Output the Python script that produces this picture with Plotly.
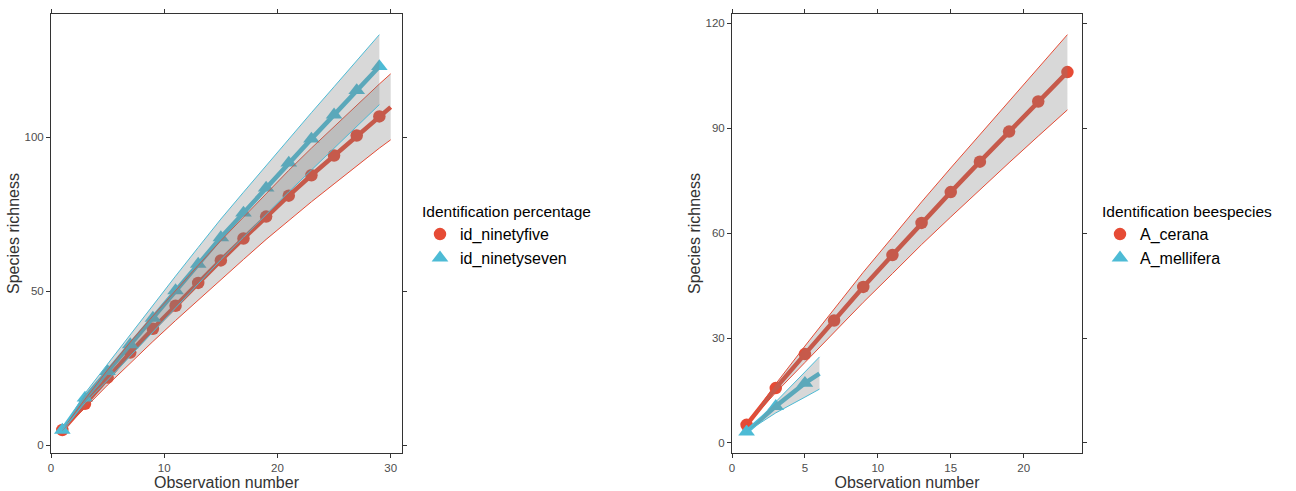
import plotly.graph_objects as go

RED = "#E64B35"
BLUE = "#4DBBD5"
RIBBON = "rgba(127,127,127,0.3)"
FONT = "Liberation Sans, Arial, Helvetica, sans-serif"

# ---- Left panel: identification percentage ----
x95 = [1, 3, 5, 7, 9, 11, 13, 15, 17, 19, 21, 23, 25, 27, 29, 30]
y95 = [5.0, 13.5, 22.0, 30.1, 37.8, 45.3, 52.7, 60.0, 67.1, 74.2, 81.0, 87.6, 94.0, 100.5, 106.7, 109.7]
lo95 = [5.0, 12.1, 19.6, 26.8, 33.7, 40.5, 47.2, 53.8, 60.3, 66.8, 73.0, 79.0, 84.8, 90.7, 96.4, 99.1]
hi95 = [5.0, 15.0, 24.5, 33.5, 42.0, 50.3, 58.4, 66.4, 74.1, 81.8, 89.2, 96.4, 103.4, 110.5, 117.2, 120.5]
pts95 = 15  # sampled points carry a marker; the final step is line only

x97 = [1, 3, 5, 7, 9, 11, 13, 15, 17, 19, 21, 23, 25, 27, 29]
y97 = [5.0, 15.4, 24.0, 32.7, 41.3, 50.2, 58.8, 67.4, 75.4, 83.5, 91.6, 99.4, 107.2, 115.1, 122.9]
lo97 = [5.0, 13.8, 21.2, 28.9, 36.6, 44.6, 52.4, 60.2, 67.5, 74.9, 82.2, 89.3, 96.4, 103.6, 110.5]
hi97 = [5.0, 16.9, 26.4, 36.0, 45.3, 54.9, 64.2, 73.4, 82.1, 90.8, 99.5, 107.9, 116.3, 124.8, 133.2]
pts97 = 15

# ---- Right panel: bee species ----
xcer = [1, 3, 5, 7, 9, 11, 13, 15, 17, 19, 21, 23]
ycer = [5.2, 15.7, 25.4, 35.0, 44.6, 53.7, 62.9, 71.7, 80.4, 89.0, 97.6, 106.0]
locer = [5.2, 14.4, 23.0, 31.6, 40.2, 48.4, 56.7, 64.6, 72.4, 80.1, 87.7, 95.2]
hicer = [5.2, 16.9, 27.7, 38.3, 48.8, 58.8, 68.9, 78.6, 88.2, 97.7, 107.3, 116.7]
ptscer = 12

xmel = [1, 3, 5, 6]
ymel = [3.2, 10.5, 17.1, 19.8]
lomel = [3.2, 8.6, 13.1, 15.4]
himel = [3.2, 11.9, 20.3, 24.6]
ptsmel = 3

series = [
    # name, x, y, lo, hi, n_points, colour, symbol, axes, legend
    ("id_ninetyfive", x95, y95, lo95, hi95, pts95, RED, "circle", ("x", "y"), "legend"),
    ("id_ninetyseven", x97, y97, lo97, hi97, pts97, BLUE, "triangle-up", ("x", "y"), "legend"),
    ("A_cerana", xcer, ycer, locer, hicer, ptscer, RED, "circle", ("x2", "y2"), "legend2"),
    ("A_mellifera", xmel, ymel, lomel, himel, ptsmel, BLUE, "triangle-up", ("x2", "y2"), "legend2"),
]
marker_size = {"circle": 12.5, "triangle-up": 14.5}

fig = go.Figure()

# curves and sample points
for name, x, y, lo, hi, n, col, sym, (xa, ya), leg in series:
    fig.add_trace(go.Scatter(x=x, y=y, mode="lines", line=dict(color=col, width=4.5),
                             xaxis=xa, yaxis=ya, showlegend=False, hoverinfo="skip"))
    fig.add_trace(go.Scatter(x=x[:n], y=y[:n], mode="markers", name=name,
                             marker=dict(color=col, symbol=sym, size=marker_size[sym], line=dict(width=0)),
                             xaxis=xa, yaxis=ya, legend=leg, showlegend=True))

# confidence ribbons drawn over the curves
for name, x, y, lo, hi, n, col, sym, (xa, ya), leg in series:
    fig.add_trace(go.Scatter(x=list(x) + list(x[::-1]), y=list(hi) + list(lo[::-1]),
                             mode="lines", fill="toself", fillcolor=RIBBON,
                             line=dict(width=0), xaxis=xa, yaxis=ya,
                             showlegend=False, hoverinfo="skip"))
    for bound in (hi, lo):
        fig.add_trace(go.Scatter(x=x, y=bound, mode="lines", line=dict(color=col, width=1),
                                 xaxis=xa, yaxis=ya, showlegend=False, hoverinfo="skip"))

W, H = 1296, 491
ydom = [38 / H, 477 / H]

axis_common = dict(
    showline=True, linecolor="#333333", linewidth=1, mirror="ticks",
    ticks="outside", ticklen=4, tickcolor="#333333", tickwidth=1,
    showgrid=False, zeroline=False, automargin=False,
    tickfont=dict(family=FONT, size=11.5, color="#4D4D4D"),
)
title_font = dict(family=FONT, size=16, color="#333333")

legend_common = dict(
    xanchor="left", yanchor="top", y=1 - 197 / H,
    font=dict(family=FONT, size=16, color="black"), bgcolor="rgba(0,0,0,0)",
    tracegroupgap=0,
)

fig.update_layout(
    width=W, height=H,
    margin=dict(l=0, r=0, t=0, b=0),
    paper_bgcolor="white", plot_bgcolor="white",
    font=dict(family=FONT),
    xaxis=dict(domain=[51 / W, 402 / W], range=[0, 31.0], tickvals=[0, 10, 20, 30],
               anchor="y", title=dict(text="Observation number", font=title_font, standoff=1),
               **axis_common),
    yaxis=dict(domain=ydom, range=[-2.46, 139.9], tickvals=[0, 50, 100],
               anchor="x", title=dict(text="Species richness", font=title_font, standoff=0),
               **axis_common),
    xaxis2=dict(domain=[732 / W, 1082 / W], range=[0, 24.0], tickvals=[0, 5, 10, 15, 20],
                anchor="y2", title=dict(text="Observation number", font=title_font, standoff=1),
                **axis_common),
    yaxis2=dict(domain=ydom, range=[-2.86, 122.6], tickvals=[0, 30, 60, 90, 120],
                anchor="x2", title=dict(text="Species richness", font=title_font, standoff=0),
                **axis_common),
    legend=dict(x=420 / W,
                title=dict(text="Identification percentage",
                           font=dict(family=FONT, size=15.5, color="black")),
                **legend_common),
    legend2=dict(x=1100 / W,
                 title=dict(text="Identification beespecies",
                            font=dict(family=FONT, size=15.5, color="black")),
                 **legend_common),
)

fig.write_html("out.html")
